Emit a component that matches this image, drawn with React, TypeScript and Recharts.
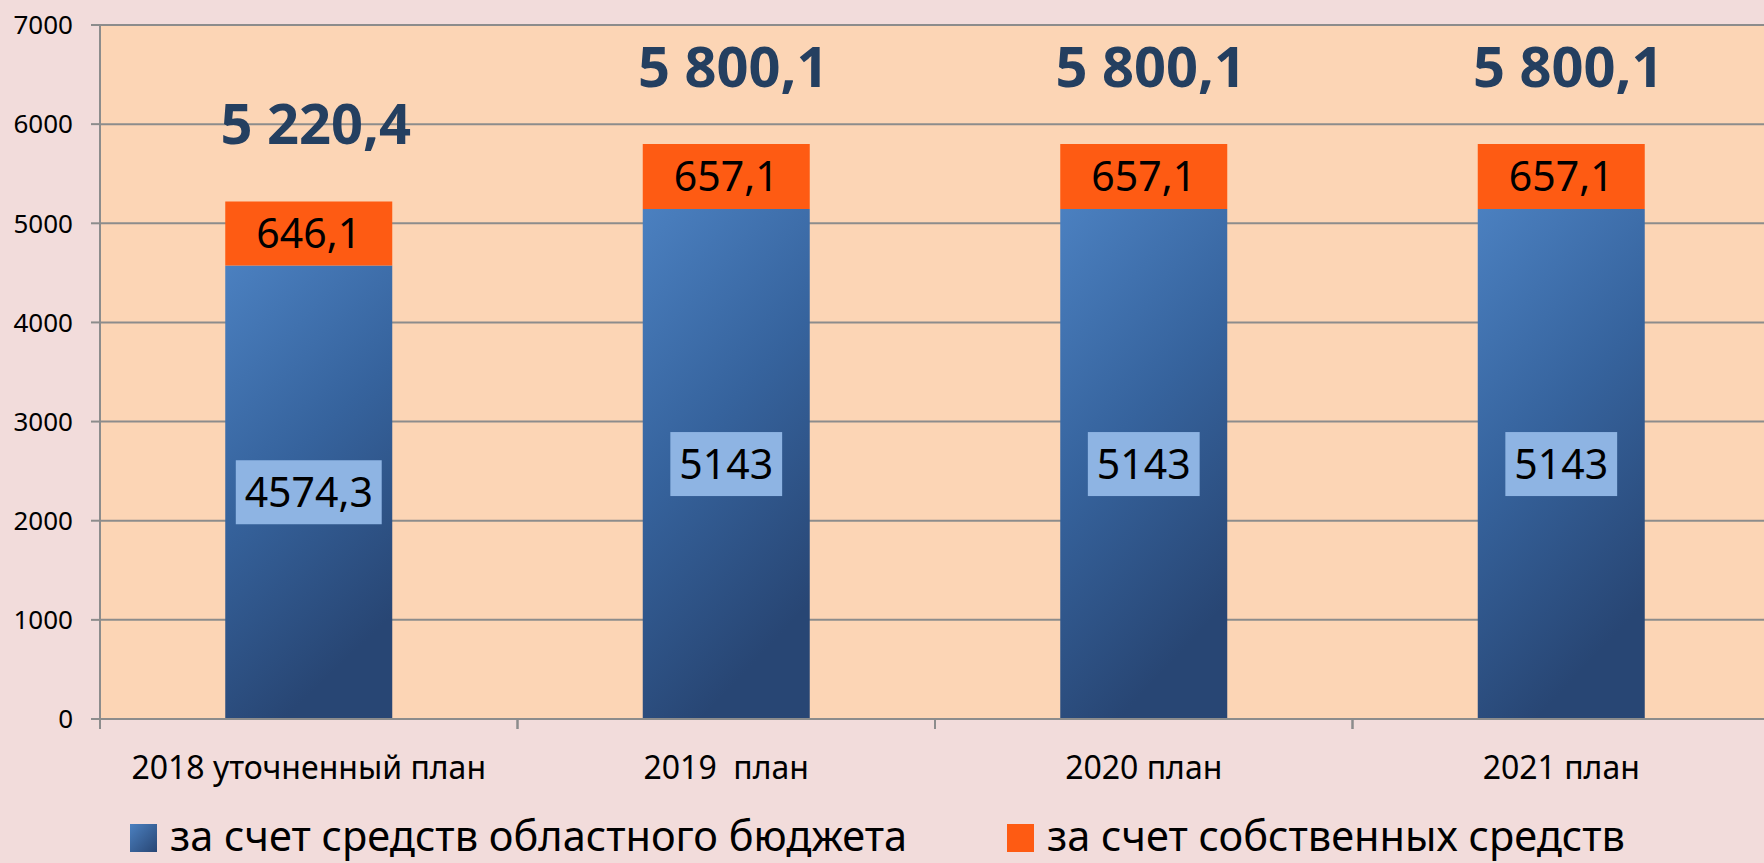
import React from 'react';
import { BarChart, Bar, XAxis, YAxis, CartesianGrid, LabelList } from 'recharts';

const categories = ['2018 уточненный план', '2019  план', '2020 план', '2021 план'];
const regionalBudget = [4574.3, 5143, 5143, 5143];
const ownFunds = [646.1, 657.1, 657.1, 657.1];
const seriesNames = ['за счет средств областного бюджета', 'за счет собственных средств'];
const yTicks = [0, 1000, 2000, 3000, 4000, 5000, 6000, 7000];

const data = categories.map((c, i) => ({ name: c, regional: regionalBudget[i], own: ownFunds[i] }));

const FONT = '"Noto Sans", "Open Sans", sans-serif';
const GRID = '#8C8C8C';
const ORANGE = '#FE5B13';

const fmtPlain = (v: number) => String(v).replace('.', ',');
const fmtTotal = (v: number) => {
  const [i, d] = v.toFixed(1).split('.');
  return i.replace(/\B(?=(\d{3})+(?!\d))/g, ' ') + ',' + d;
};
const estWidth = (s: string, fs: number) =>
  s.split('').reduce((a, ch) => a + (ch === ',' || ch === ' ' ? 0.26 : 0.572), 0) * fs;

const BlueLabel = (props: any) => {
  const { x, y, width, height, index } = props;
  const text = fmtPlain(regionalBudget[index]);
  const fs = 41;
  const bw = estWidth(text, fs) + 18;
  const bh = 64;
  const top = Math.min(y, y + height);
  const cx = x + width / 2;
  const cy = top + Math.abs(height) / 2;
  return (
    <g>
      <rect x={cx - bw / 2} y={cy - bh / 2} width={bw} height={bh} fill="#8EB4E3" />
      <text x={cx} y={cy + fs * 0.36} textAnchor="middle" fontSize={fs} fill="#000" fontFamily={FONT}>
        {text}
      </text>
    </g>
  );
};

const OrangeLabel = (props: any) => {
  const { x, y, width, height, index } = props;
  const text = fmtPlain(ownFunds[index]);
  const total = fmtTotal(regionalBudget[index] + ownFunds[index]);
  const fs = 41;
  const top = Math.min(y, y + height);
  const cx = x + width / 2;
  const cy = top + Math.abs(height) / 2;
  return (
    <g>
      <text x={cx} y={cy + fs * 0.36} textAnchor="middle" fontSize={fs} fill="#000" fontFamily={FONT}>
        {text}
      </text>
      <text x={cx + 7} y={top - 57} textAnchor="middle" fontSize={56} fontWeight="bold" fill="#243F60" fontFamily={FONT}>
        {total}
      </text>
    </g>
  );
};

const XTick = (props: any) => {
  const { x, y, payload } = props;
  const off =
    payload && typeof payload.offset === 'number' && payload.offset > 0
      ? payload.offset
      : props.width / (props.visibleTicksCount || categories.length) / 2;
  const axisY = y - 28;
  return (
    <g>
      <line x1={x - off} x2={x - off} y1={axisY} y2={axisY + 10} stroke={GRID} strokeWidth={2} />
      <line x1={x + off} x2={x + off} y1={axisY} y2={axisY + 10} stroke={GRID} strokeWidth={2} />
      <text x={x} y={y + 32} textAnchor="middle" fontSize={32} fill="#000" fontFamily={FONT} style={{ whiteSpace: 'pre' }}>
        {payload.value}
      </text>
    </g>
  );
};

export default function App() {
  return (
    <div
      style={{
        position: 'relative',
        width: 1764,
        height: 863,
        overflow: 'hidden',
        background: '#F2DCDB',
        fontFamily: FONT,
      }}
    >
      <style>{'body{margin:0;overflow:hidden}'}</style>
      <BarChart
        width={1770}
        height={863}
        data={data}
        margin={{ top: 25, right: 0, bottom: 84, left: 0 }}
        barCategoryGap="30%"
      >
        <defs>
          <linearGradient id="blueGrad" x1="0" y1="0" x2="0.35" y2="1">
            <stop offset="0" stopColor="#4B80C0" />
            <stop offset="0.5" stopColor="#36639D" />
            <stop offset="1" stopColor="#284674" />
          </linearGradient>
        </defs>
        <CartesianGrid vertical={false} stroke={GRID} strokeWidth={2} fill="#FCD5B5" fillOpacity={1} />
        <XAxis
          dataKey="name"
          interval={0}
          height={60}
          tickSize={10}
          tickMargin={18}
          tickLine={false}
          axisLine={{ stroke: GRID, strokeWidth: 2 }}
          tick={<XTick />}
        />
        <YAxis
          width={100}
          domain={[0, 7000]}
          ticks={yTicks}
          interval={0}
          tickSize={9}
          tickMargin={18}
          tickLine={{ stroke: GRID, strokeWidth: 2 }}
          axisLine={{ stroke: GRID, strokeWidth: 2 }}
          tick={{ fontSize: 26, fill: '#000', fontFamily: FONT }}
        />
        <Bar dataKey="regional" stackId="a" fill="url(#blueGrad)" isAnimationActive={false}>
          <LabelList dataKey="regional" content={<BlueLabel />} />
        </Bar>
        <Bar dataKey="own" stackId="a" fill={ORANGE} isAnimationActive={false}>
          <LabelList dataKey="own" content={<OrangeLabel />} />
        </Bar>
      </BarChart>
      <svg width={1764} height={863} style={{ position: 'absolute', left: 0, top: 0, pointerEvents: 'none' }}>
        <defs>
          <linearGradient id="legBlue" x1="0" y1="0" x2="1" y2="1">
            <stop offset="0" stopColor="#4B80C0" />
            <stop offset="1" stopColor="#284674" />
          </linearGradient>
        </defs>
        <rect x={130} y={824} width={27} height={28} fill="url(#legBlue)" />
        <text x={170} y={851} fontSize={41.5} fill="#000" fontFamily={FONT}>
          {seriesNames[0]}
        </text>
        <rect x={1007} y={824} width={27} height={28} fill={ORANGE} />
        <text x={1047} y={851} fontSize={41.5} fill="#000" fontFamily={FONT}>
          {seriesNames[1]}
        </text>
      </svg>
    </div>
  );
}
